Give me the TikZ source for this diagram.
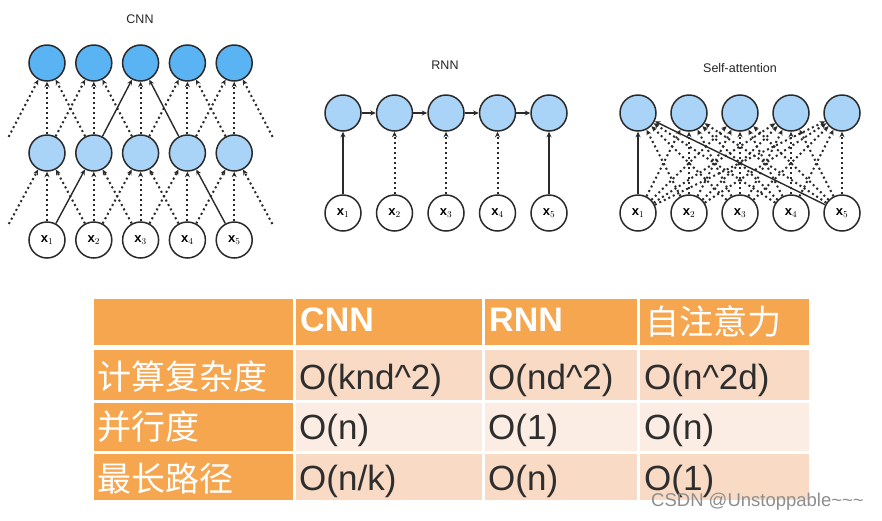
\documentclass[tikz,border=0pt]{standalone}
\usepackage{fontspec}
\setmainfont{Liberation Sans}
\newfontfamily\cjk{Noto Sans CJK SC}
\usetikzlibrary{arrows.meta}
\definecolor{cnntop}{HTML}{5AB3F3}
\definecolor{lblue}{HTML}{A9D4F7}
\definecolor{edgec}{HTML}{2A2A2A}
\definecolor{orng}{HTML}{F5A64F}
\definecolor{peach}{HTML}{F9DAC5}
\definecolor{peachl}{HTML}{FCEDE4}
\definecolor{txt}{HTML}{2E2E2E}
\definecolor{wm}{HTML}{8E8E8E}
\begin{document}
\begin{tikzpicture}[x=1pt,y=-1pt,
  neuron/.style={circle,draw=edgec,line width=1.5pt,minimum size=36pt,inner sep=0pt,fill=white},
  ghost/.style={circle,minimum size=36pt,inner sep=0pt},
  dotted arrow/.style={draw=edgec,line width=2pt,dash pattern=on 2pt off 3pt,-{Stealth[length=5.5pt,width=5pt]}},
  solid arrow/.style={draw=edgec,line width=1.4pt,-{Stealth[length=5.5pt,width=5pt]}},
  title/.style={font=\fontsize{12.5}{14}\selectfont,text=black!85},
  xl/.style={font=\fontsize{13}{15}\selectfont},
  hdr/.style={anchor=base west,inner sep=0pt,text=white,font=\fontsize{34}{38}\selectfont\bfseries},
  hdrc/.style={anchor=base west,inner sep=0pt,text=white,font=\fontsize{34}{38}\selectfont\cjk},
  data/.style={anchor=base west,inner sep=0pt,text=txt,font=\fontsize{35}{40}\selectfont},
]
\useasboundingbox (0,0) rectangle (882,520);
\fill[white] (0,0) rectangle (882,520);

% ---------------- CNN ----------------
\node[title] (tcnn) at (140,19) {CNN};
\foreach \i in {1,...,5}{
  \node[neuron,fill=cnntop] (ct\i) at ({47+46.8*(\i-1)},63) {};
  \node[neuron,fill=lblue] (cm\i) at ({47+46.8*(\i-1)},153) {};
  \node[neuron,xl] (cb\i) at ({47+46.8*(\i-1)},240) {$\mathbf{x}_{\i}$};
}
\node[ghost] (cm0) at (0.2,153) {};
\node[ghost] (cm6) at (281,153) {};
\node[ghost] (cb0) at (0.2,240) {};
\node[ghost] (cb6) at (281,240) {};
\foreach \i in {1,...,5}{
  \draw[dotted arrow] (cb\i) -- (cm\i);
  \draw[dotted arrow] (cm\i) -- (ct\i);
}
\foreach \a/\b in {0/1,2/1,3/2,2/3,4/3,3/4,4/5,6/5}
  \draw[dotted arrow] (cb\a) -- (cm\b);
\foreach \a/\b in {0/1,2/1,1/2,3/2,3/4,5/4,4/5,6/5}
  \draw[dotted arrow] (cm\a) -- (ct\b);
\draw[solid arrow] (cb1) -- (cm2);
\draw[solid arrow] (cb5) -- (cm4);
\draw[solid arrow] (cm2) -- (ct3);
\draw[solid arrow] (cm4) -- (ct3);

% ---------------- RNN ----------------
\node[title] (trnn) at (445,65) {RNN};
\foreach \i in {1,...,5}{
  \node[neuron,fill=lblue] (rt\i) at ({343+51.5*(\i-1)},113) {};
  \node[neuron,xl] (rb\i) at ({343+51.5*(\i-1)},213) {$\mathbf{x}_{\i}$};
}
\foreach \a/\b in {1/2,2/3,3/4,4/5}
  \draw[solid arrow] (rt\a) -- (rt\b);
\draw[solid arrow] (rb1) -- (rt1);
\draw[solid arrow] (rb5) -- (rt5);
\foreach \i in {2,3,4}
  \draw[dotted arrow] (rb\i) -- (rt\i);

% ---------------- Self-attention ----------------
\node[title] (tsa) at (740,68) {Self-attention};
\foreach \i in {1,...,5}{
  \node[neuron,fill=lblue] (st\i) at ({638+51*(\i-1)},113) {};
  \node[neuron,xl] (sb\i) at ({638+51*(\i-1)},213) {$\mathbf{x}_{\i}$};
}
\foreach \j in {2,...,5}
  \foreach \i in {1,...,5}
    \draw[dotted arrow] (sb\i) -- (st\j);
\foreach \i in {2,3,4}
  \draw[dotted arrow] (sb\i) -- (st1);
\draw[solid arrow] (sb1) -- (st1);
\draw[solid arrow] (sb5) -- (st1);

% ---------------- Table ----------------
\fill[orng] (94,299) rectangle (293,345);
\fill[orng] (296,299) rectangle (482,345);
\fill[orng] (485,299) rectangle (637,345);
\fill[orng] (640,299) rectangle (809,345);
\fill[orng] (94,350) rectangle (293,400);
\fill[orng] (94,403) rectangle (293,451);
\fill[orng] (94,454) rectangle (293,500);
\foreach \xa/\xb in {296/482,485/637,640/809}{
  \fill[peach] (\xa,350) rectangle (\xb,400);
  \fill[peachl] (\xa,403) rectangle (\xb,451);
  \fill[peach] (\xa,454) rectangle (\xb,500);
}
\node[hdr] (hcnn) at (300,331) {CNN};
\node[hdr] (hrnn) at (489,331) {RNN};
\node[hdrc] (hsa) at (645,334) {自注意力};
\node[hdrc] (r1) at (97,389) {计算复杂度};
\node[hdrc] (r2) at (97,439) {并行度};
\node[hdrc] (r3) at (97,491) {最长路径};
\node[data] (d11) at (299,389) {O(knd\^{}2)};
\node[data] (d12) at (488,389) {O(nd\^{}2)};
\node[data] (d13) at (644,389) {O(n\^{}2d)};
\node[data] (d21) at (299,439) {O(n)};
\node[data] (d22) at (488,439) {O(1)};
\node[data] (d23) at (644,439) {O(n)};
\node[data] (d31) at (299,490) {O(n/k)};
\node[data] (d32) at (488,490) {O(n)};
\node[data] (d33) at (644,490) {O(1)};

% watermark
\node[anchor=base west,inner sep=0pt,text=wm,font=\fontsize{18.5}{20}\selectfont] (wmk) at (651,506) {CSDN @Unstoppable\textasciitilde\textasciitilde\textasciitilde};
\end{tikzpicture}
\end{document}
